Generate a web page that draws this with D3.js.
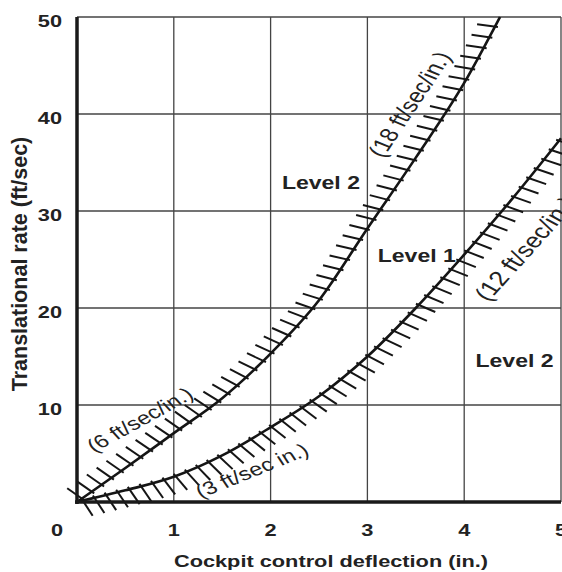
<!DOCTYPE html>
<html>
<head>
<meta charset="utf-8">
<script src="https://cdn.jsdelivr.net/npm/d3@7"></script>
<style>
  body { margin: 0; background: #fff; }
  svg { display: block; font-family: "Liberation Sans", Arial, sans-serif; }
</style>
</head>
<body>
<div id="vis"></div>
<script>
const FRAME_WIDTH = 562;
const FRAME_HEIGHT = 572;
const PLOT = {left: 77, right: 561, top: 17, bottom: 502};

// tick values
const X_TICKS = [1, 2, 3, 4, 5];
const Y_TICKS = [10, 20, 30, 40, 50];

// upper boundary (6 -> 18 ft/sec/in.)
const upperX = [0, 0.5, 1, 1.5, 2, 2.5, 3, 3.5, 4, 4.37];
const upperY = [0, 3.5, 7.1, 10.7, 15.3, 20.8, 28.2, 35.5, 43.2, 50];

// lower boundary (3 -> 12 ft/sec/in.)
const lowerX = [0, 0.5, 1, 1.5, 2, 2.5, 3, 3.5, 4, 4.5, 5];
const lowerY = [0, 1.2, 2.6, 4.8, 7.7, 10.9, 15.0, 20.0, 25.5, 31.3, 37.5];

const gradientLabels = ["(6 ft/sec/in.)", "(3 ft/sec in.)", "(18 ft/sec/in.)", "(12 ft/sec/in.)"];
const levelLabels = ["Level 2", "Level 1", "Level 2"];

// the source picture is stretched sideways, text follows that
const SX = 1.28;

const svg = d3.select("#vis")
  .append("svg")
    .attr("width", FRAME_WIDTH)
    .attr("height", FRAME_HEIGHT);

const X_SCALE = d3.scaleLinear().domain([0, 5]).range([PLOT.left, PLOT.right]);
const Y_SCALE = d3.scaleLinear().domain([0, 50]).range([PLOT.bottom, PLOT.top]);

// place a text with the sideways stretch, angle given in picture space
function place(sel, x, y, deg, sx) {
  const r = deg * Math.PI / 180;
  const a = Math.atan2(sx * Math.sin(r), Math.cos(r)) * 180 / Math.PI;
  return sel.attr("transform", `translate(${x},${y}) scale(${sx},1) rotate(${a})`);
}

// grid
svg.append("g").selectAll("line")
  .data(X_TICKS)
  .enter().append("line")
    .attr("x1", d => X_SCALE(d)).attr("x2", d => X_SCALE(d))
    .attr("y1", Y_SCALE(0)).attr("y2", Y_SCALE(50))
    .attr("stroke", "#444").attr("stroke-width", 1.3);

svg.append("g").selectAll("line")
  .data(Y_TICKS)
  .enter().append("line")
    .attr("x1", X_SCALE(0)).attr("x2", X_SCALE(5))
    .attr("y1", d => Y_SCALE(d)).attr("y2", d => Y_SCALE(d))
    .attr("stroke", "#444").attr("stroke-width", 1.3);

// curves
const line = d3.line()
  .x(d => X_SCALE(d[0]))
  .y(d => Y_SCALE(d[1]))
  .curve(d3.curveMonotoneX);

const curves = [
  {pts: d3.zip(upperX, upperY), turn: 110},
  {pts: d3.zip(lowerX, lowerY), turn: -70}
];

curves.forEach(c => {
  const path = svg.append("path")
    .attr("d", line(c.pts))
    .attr("fill", "none")
    .attr("stroke", "#151515")
    .attr("stroke-width", 2.6);

  // hatch marks along the curve
  const node = path.node();
  const len = node.getTotalLength();
  const hatches = [];
  for (let s = 6; s < len - 2; s += 12) {
    const p = node.getPointAtLength(s);
    const p0 = node.getPointAtLength(Math.max(0, s - 2));
    const p1 = node.getPointAtLength(Math.min(len, s + 2));
    const phi = Math.atan2(-(p1.y - p0.y), p1.x - p0.x);
    const h = phi + c.turn * Math.PI / 180;
    const ux = Math.cos(h), uy = -Math.sin(h);
    hatches.push({x1: p.x - 3 * ux, y1: p.y - 3 * uy, x2: p.x + 18 * ux, y2: p.y + 18 * uy});
  }
  svg.append("g").selectAll("line")
    .data(hatches)
    .enter().append("line")
      .attr("x1", d => d.x1).attr("y1", d => d.y1)
      .attr("x2", d => d.x2).attr("y2", d => d.y2)
      .attr("stroke", "#151515").attr("stroke-width", 2);
});

// axes lines
svg.append("line")
  .attr("x1", X_SCALE(0)).attr("x2", X_SCALE(0))
  .attr("y1", Y_SCALE(50)).attr("y2", Y_SCALE(0) + 2)
  .attr("stroke", "#1a1a1a").attr("stroke-width", 3.5);
svg.append("line")
  .attr("x1", X_SCALE(0) - 2).attr("x2", X_SCALE(5))
  .attr("y1", Y_SCALE(0)).attr("y2", Y_SCALE(0))
  .attr("stroke", "#1a1a1a").attr("stroke-width", 3.5);

// tick labels
svg.append("g").selectAll("text")
  .data(X_TICKS)
  .enter().append("text")
    .text(d => d)
    .attr("text-anchor", "middle")
    .attr("font-size", 17).attr("font-weight", "bold").attr("fill", "#222")
    .each(function(d) { place(d3.select(this), X_SCALE(d), 536, 0, SX); });

svg.append("text").text("0")
  .attr("text-anchor", "middle")
  .attr("font-size", 17).attr("font-weight", "bold").attr("fill", "#222")
  .call(s => place(s, X_SCALE(0) - 20, 536, 0, SX));

svg.append("g").selectAll("text")
  .data(Y_TICKS)
  .enter().append("text")
    .text(d => d)
    .attr("text-anchor", "end")
    .attr("font-size", 17).attr("font-weight", "bold").attr("fill", "#222")
    .each(function(d) { place(d3.select(this), 62, Y_SCALE(d) + 10, 0, SX); });

// axis titles
svg.append("text").text("Cockpit control deflection (in.)")
  .attr("text-anchor", "middle")
  .attr("font-size", 17).attr("font-weight", "bold").attr("fill", "#222")
  .call(s => place(s, 331, 567, 0, SX));

svg.append("text").text("Translational rate (ft/sec)")
  .attr("text-anchor", "middle")
  .attr("font-size", 21.5).attr("font-weight", "bold").attr("fill", "#222")
  .attr("transform", "translate(27,264) rotate(-90)");

// gradient labels along the curves
const gradPos = [
  {x: 0.651, y: 8.45, a: -29, size: 18.5, anchor: "middle"},
  {x: 1.808, y: 3.2, a: -22, size: 18.5, anchor: "middle"},
  {x: 3.435, y: 41.0, a: -56, size: 20, anchor: "middle"},
  {x: 4.168, y: 21.0, a: -48, size: 21, anchor: "start"}
];
gradientLabels.forEach((t, i) => {
  const p = gradPos[i];
  svg.append("text").text(t)
    .attr("text-anchor", p.anchor)
    .attr("dominant-baseline", "central")
    .attr("font-size", p.size).attr("fill", "#222")
    .call(s => place(s, X_SCALE(p.x), Y_SCALE(p.y), p.a, SX));
});

// level regions
const levelPos = [
  {x: 2.52, y: 32.3},
  {x: 3.51, y: 24.7},
  {x: 4.52, y: 13.9}
];
levelLabels.forEach((t, i) => {
  const p = levelPos[i];
  svg.append("text").text(t)
    .attr("text-anchor", "middle")
    .attr("font-size", 18).attr("font-weight", "bold").attr("fill", "#222")
    .call(s => place(s, X_SCALE(p.x), Y_SCALE(p.y), 0, SX));
});
</script>
</body>
</html>
